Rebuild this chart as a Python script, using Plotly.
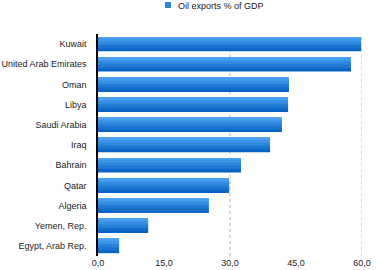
import plotly.graph_objects as go

countries = ["Kuwait", "United Arab Emirates", "Oman", "Libya", "Saudi Arabia", "Iraq",
             "Bahrain", "Qatar", "Algeria", "Yemen, Rep.", "Egypt, Arab Rep."]
values = [59.8, 57.5, 43.4, 43.2, 41.8, 39.1, 32.5, 29.8, 25.2, 11.4, 4.8]
tick_vals = [0, 15, 30, 45, 60]
tick_text = ["0,0", "15,0", "30,0", "45,0", "60,0"]
grid_vals = [30, 60]
series_name = "Oil exports % of GDP"

# vertical gradient of the bars (top light -> bottom dark)
top_rgb = (78, 164, 242)
bot_rgb = (8, 100, 196)
n_bands = 10
bar_w = 0.7

W, H = 381, 270
ml, mr, mt, mb = 98, 19, 34, 14
pw, ph = W - ml - mr, H - mt - mb

def px_x(p):
    return (p - ml) / pw

def px_y(p):
    return 1 + (mt - p) / ph

fig = go.Figure()
for i in range(n_bands):
    t = i / (n_bands - 1)
    c = tuple(round(top_rgb[k] + (bot_rgb[k] - top_rgb[k]) * t) for k in range(3))
    fig.add_trace(go.Bar(
        x=values, y=countries, orientation="h",
        name=series_name,
        marker=dict(color="rgb(%d,%d,%d)" % c, line=dict(width=0)),
        width=bar_w / n_bands * 1.15,
        offset=-bar_w / 2 + i * bar_w / n_bands,
        showlegend=False, hoverinfo="x+y",
    ))

for g in grid_vals:
    fig.add_shape(type="line", xref="x", yref="paper", x0=g, x1=g, y0=0, y1=1,
                  line=dict(color="#b0b0b0", width=1, dash="dot"), layer="below")

# legend (symbol + label)
fig.add_shape(type="rect", xref="paper", yref="paper",
              x0=px_x(165), x1=px_x(171), y0=px_y(8), y1=px_y(2),
              fillcolor="#2b82de", line=dict(width=0))
fig.add_annotation(xref="paper", yref="paper", x=px_x(176), y=px_y(5.5),
                   xanchor="left", yanchor="middle", showarrow=False,
                   text=series_name, font=dict(size=9, color="#222"))

fig.update_layout(
    width=W, height=H,
    margin=dict(l=ml, r=mr, t=mt, b=mb),
    paper_bgcolor="white", plot_bgcolor="white",
    font=dict(family="Liberation Sans, Arial", size=9, color="#222"),
    showlegend=False, barmode="overlay",
    xaxis=dict(range=[0, 60], tickvals=tick_vals, ticktext=tick_text, showgrid=False,
               zeroline=False, showline=False, ticks="", fixedrange=True,
               automargin=False),
    yaxis=dict(categoryorder="array", categoryarray=countries, autorange="reversed",
               showline=True, linecolor="black", linewidth=1.5, ticks="", showgrid=False,
               ticklabelstandoff=8, automargin=False),
)
fig.write_html("out.html")
